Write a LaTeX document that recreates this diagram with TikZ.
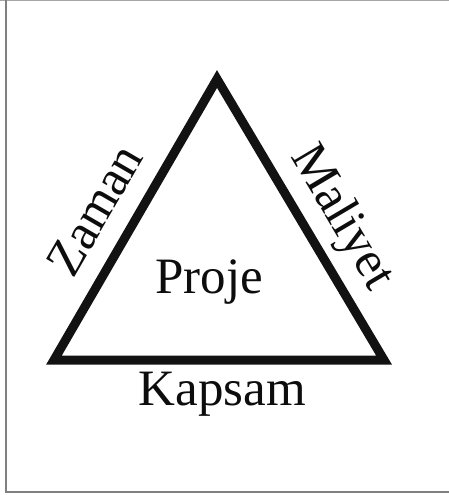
\documentclass[tikz,border=0pt]{standalone}
\usepackage{fontspec}
\setmainfont{Liberation Serif}
\begin{document}
\begin{tikzpicture}[x=1pt,y=-1pt,
  frame/.style={line width=1.5pt},
  tri/.style={line width=9pt,line join=miter,draw=black!93},
  lbl/.style={font=\fontsize{51}{51}\selectfont,inner sep=0pt,text=black!95}]
\useasboundingbox (0,0) rectangle (449,495);
\draw[frame,draw=black!35] (0,0.75) -- (449,0.75);
\draw[frame,draw=black!50] (6,0) -- (6,492) -- (449,492);
\coordinate (A) at (54,360);
\coordinate (B) at (384,360);
\coordinate (C) at (217,79);
\draw[tri] (A) -- (B) -- (C) -- cycle;
\node[lbl,anchor=base] (proje) at (209,293) {Proje};
\node[lbl,anchor=base] (kapsam) at (222.5,405) {Kapsam};
\node[lbl,rotate=59.9] (zaman) at (95,210) {Zaman};
\node[lbl,rotate=-59.3] (maliyet) at (341,218) {Maliyet};
\end{tikzpicture}
\end{document}
